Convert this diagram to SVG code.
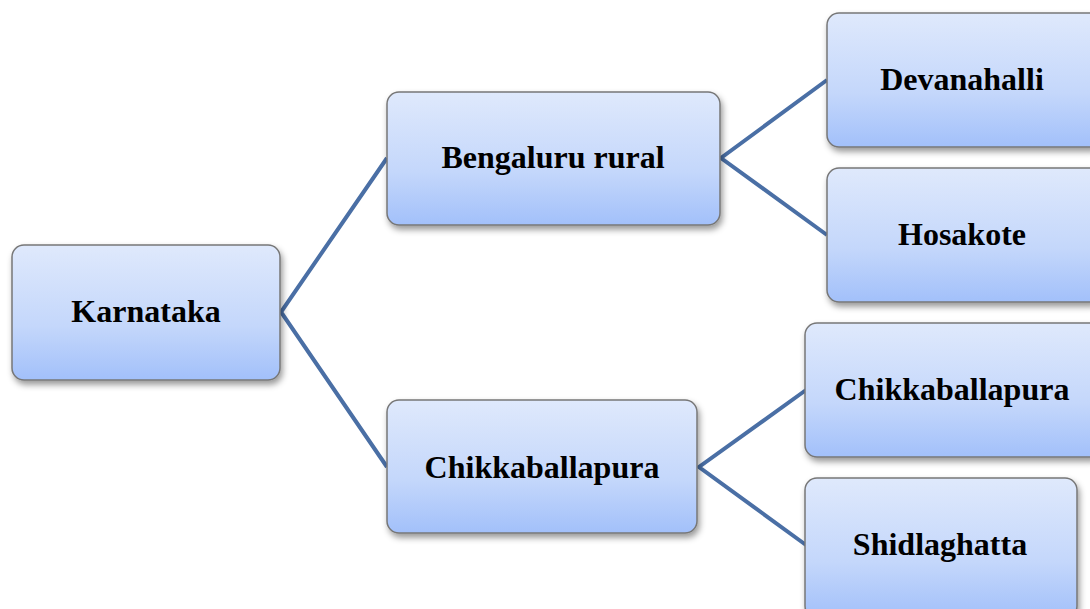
<svg xmlns="http://www.w3.org/2000/svg" width="1090" height="609" viewBox="0 0 1090 609">
<defs>
<linearGradient id="g" x1="0" y1="0" x2="0" y2="1">
<stop offset="0" stop-color="#dfe9fc"/>
<stop offset="0.6" stop-color="#c4d7fb"/>
<stop offset="1" stop-color="#a2c0fa"/>
</linearGradient>
<filter id="sh" x="-10%" y="-10%" width="125%" height="130%">
<feDropShadow dx="2" dy="4" stdDeviation="3" flood-color="#000" flood-opacity="0.4"/>
</filter>
</defs>
<style>
.box{fill:url(#g);stroke:#777;stroke-width:1.5;filter:url(#sh)}
.t{font-family:"Liberation Serif","Times New Roman",serif;font-weight:bold;font-size:32px;fill:#000;text-anchor:middle}
.c{fill:none;stroke:#4a6fa5;stroke-width:4}
</style>
<rect width="1090" height="609" fill="#fff"/>
<g id="connectors">
<polyline class="c" points="387,158 281,312 387,467"/>
<polyline class="c" points="827,80 721,158 827,235"/>
<polyline class="c" points="806,390 699,467 806,545"/>
</g>
<g id="karnataka"><rect class="box" x="12" y="245" width="268" height="135" rx="12"/><text class="t" x="146" y="322">Karnataka</text></g>
<g id="bengaluru"><rect class="box" x="387" y="92" width="333" height="133" rx="12"/><text class="t" x="553" y="168">Bengaluru rural</text></g>
<g id="chikka-mid"><rect class="box" x="387" y="400" width="310" height="133" rx="12"/><text class="t" x="542" y="478">Chikkaballapura</text></g>
<g id="devanahalli"><rect class="box" x="827" y="13" width="275" height="134" rx="12"/><text class="t" x="962" y="90">Devanahalli</text></g>
<g id="hosakote"><rect class="box" x="827" y="168" width="275" height="134" rx="12"/><text class="t" x="962" y="245">Hosakote</text></g>
<g id="chikka-right"><rect class="box" x="805" y="323" width="297" height="134" rx="12"/><text class="t" x="952" y="400">Chikkaballapura</text></g>
<g id="shidlaghatta"><rect class="box" x="805" y="478" width="272" height="140" rx="12"/><text class="t" x="940" y="555">Shidlaghatta</text></g>
</svg>
